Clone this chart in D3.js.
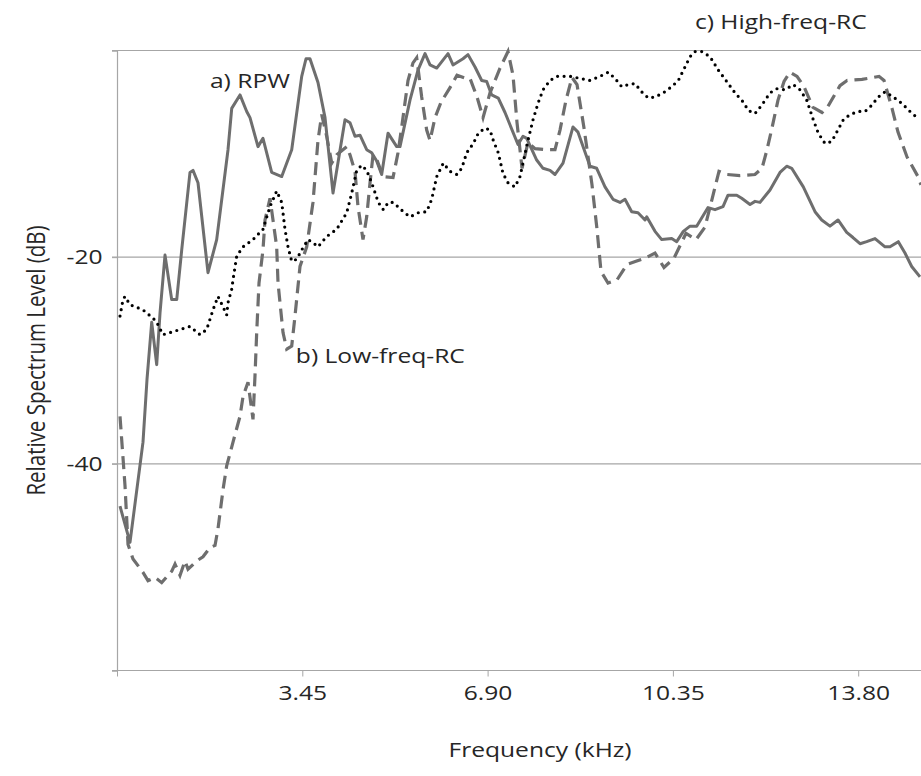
<!DOCTYPE html>
<html>
<head>
<meta charset="utf-8">
<script src="https://cdn.jsdelivr.net/npm/d3@7"></script>
<style>
  body { margin: 0; background: #fff; }
  svg { display: block; }
  text { font-family: "Open Sans", "Noto Sans", sans-serif; fill: #262626; }
</style>
</head>
<body>
<div id="chart"></div>
<script>
// [frequency kHz, relative level dB]
const rpw = [
  [0.056, -44.1], [0.242, -47.6], [0.484, -37.9], [0.559, -31.8], [0.646, -26.3], [0.739, -30.4],
  [0.801, -25.4], [0.894, -19.8], [1.018, -24.1], [1.112, -24.1], [1.205, -19.3], [1.359, -11.8],
  [1.415, -11.6], [1.508, -12.8], [1.694, -21.5], [1.856, -18.3], [2.067, -9.6], [2.136, -5.6],
  [2.290, -4.3], [2.415, -5.9], [2.476, -6.5], [2.625, -9.3], [2.718, -8.5], [2.880, -11.8],
  [3.067, -12.2], [3.253, -9.6], [3.439, -2.5], [3.519, -0.8], [3.593, -0.8], [3.742, -3.1],
  [3.873, -6.5], [4.022, -13.8], [4.245, -6.7], [4.338, -7.0], [4.431, -8.3], [4.524, -8.2],
  [4.649, -9.6], [4.742, -9.9], [4.835, -10.7], [4.928, -12.0], [5.046, -8.0], [5.208, -9.3],
  [5.269, -9.3], [5.455, -4.8], [5.604, -1.9], [5.735, -0.3], [5.828, -1.4], [5.953, -1.7],
  [6.163, -0.3], [6.256, -1.4], [6.442, -0.8], [6.535, -0.4], [6.666, -1.6], [6.790, -2.9],
  [6.883, -3.0], [6.976, -4.3], [7.099, -4.6], [7.224, -6.0], [7.466, -9.1], [7.559, -8.3],
  [7.628, -8.5], [7.814, -10.6], [7.932, -11.4], [8.062, -11.6], [8.155, -12.0], [8.304, -10.9],
  [8.490, -7.4], [8.583, -7.9], [8.807, -11.2], [8.931, -11.4], [9.086, -13.2], [9.235, -14.4],
  [9.365, -14.7], [9.458, -14.4], [9.583, -15.6], [9.700, -15.7], [9.831, -16.4], [9.862, -16.1],
  [10.017, -17.5], [10.142, -18.3], [10.328, -18.2], [10.421, -18.5], [10.544, -17.5], [10.669, -17.0],
  [10.793, -17.0], [11.004, -15.2], [11.134, -15.4], [11.283, -15.1], [11.376, -14.0], [11.538, -14.0],
  [11.631, -14.3], [11.786, -14.9], [11.879, -14.6], [11.972, -14.7], [12.158, -13.5], [12.344, -11.8],
  [12.469, -11.2], [12.562, -11.4], [12.778, -13.2], [12.996, -15.6], [13.121, -16.4], [13.275, -17.0],
  [13.424, -16.4], [13.586, -17.6], [13.703, -18.1], [13.834, -18.7], [13.958, -18.5], [14.113, -18.2],
  [14.299, -19.0], [14.392, -19.0], [14.547, -18.5], [14.671, -19.6], [14.796, -20.9], [14.951, -21.9]
]

const lowFreqRC = [
  [0.056, -35.4], [0.149, -42.1], [0.205, -47.8], [0.298, -49.2], [0.484, -50.5], [0.577, -51.3],
  [0.708, -51.0], [0.832, -51.5], [1.018, -50.4], [1.080, -49.7], [1.173, -50.8], [1.266, -49.4],
  [1.322, -50.2], [1.484, -49.4], [1.601, -49.0], [1.731, -48.1], [1.825, -47.9], [1.880, -46.3],
  [1.974, -42.5], [2.042, -40.2], [2.160, -37.9], [2.290, -35.4], [2.346, -33.5], [2.439, -32.1],
  [2.532, -35.7], [2.569, -31.5], [2.601, -27.3], [2.644, -22.5], [2.718, -19.3], [2.756, -16.4],
  [2.849, -14.3], [2.973, -19.0], [2.998, -22.5], [3.091, -27.3], [3.160, -28.9], [3.253, -28.6],
  [3.314, -25.7], [3.407, -20.9], [3.532, -19.0], [3.649, -14.7], [3.742, -8.7], [3.811, -6.2],
  [3.904, -8.3], [3.998, -10.9], [4.091, -10.1], [4.277, -9.3], [4.338, -10.1], [4.431, -11.7],
  [4.487, -15.1], [4.580, -18.3], [4.649, -16.1], [4.711, -12.8], [4.767, -10.1], [4.841, -10.6],
  [4.953, -12.2], [5.139, -12.3], [5.232, -9.9], [5.306, -7.2], [5.418, -2.9], [5.511, -1.2],
  [5.580, -0.7], [5.673, -4.5], [5.766, -7.7], [5.828, -8.7], [5.921, -6.5], [6.033, -5.0],
  [6.200, -3.6], [6.330, -2.4], [6.498, -2.7], [6.573, -2.7], [6.703, -4.5], [6.815, -6.5],
  [6.945, -4.1], [7.131, -1.7], [7.280, -0.1], [7.373, -2.4], [7.448, -7.0], [7.541, -11.4],
  [7.652, -8.9], [7.783, -9.5], [8.025, -9.6], [8.155, -9.6], [8.248, -7.7], [8.360, -4.8],
  [8.471, -2.6], [8.565, -3.3], [8.695, -7.5], [8.844, -13.0], [8.937, -17.3], [9.012, -21.4],
  [9.142, -22.5], [9.309, -22.2], [9.496, -20.7], [9.663, -20.4], [9.831, -20.1], [10.017, -19.6],
  [10.184, -21.0], [10.370, -20.1], [10.594, -17.7], [10.780, -18.3], [10.947, -17.1], [11.078, -14.4],
  [11.208, -11.7], [11.357, -12.0], [11.599, -12.1], [11.878, -12.0], [12.009, -11.4], [12.102, -9.6],
  [12.195, -7.5], [12.307, -4.8], [12.419, -3.0], [12.530, -2.1], [12.661, -2.5], [12.791, -3.5],
  [12.959, -5.5], [13.126, -6.0], [13.238, -5.4], [13.461, -3.4], [13.592, -2.9], [13.871, -2.8],
  [14.188, -2.5], [14.281, -2.9], [14.430, -5.6], [14.541, -7.9], [14.709, -10.3], [14.913, -12.2],
  [14.969, -13.0]
]

const highFreqRC = [
  [0.056, -25.7], [0.112, -24.1], [0.149, -23.8], [0.242, -24.6], [0.484, -25.1], [0.670, -25.9],
  [0.739, -26.3], [0.856, -27.5], [0.987, -27.3], [1.359, -26.7], [1.545, -27.5], [1.670, -27.0],
  [1.787, -25.1], [1.880, -23.8], [1.974, -24.8], [2.042, -25.6], [2.067, -24.4], [2.136, -23.1],
  [2.160, -22.2], [2.229, -19.9], [2.346, -19.0], [2.532, -18.3], [2.718, -17.3], [2.849, -15.1],
  [2.973, -13.6], [3.067, -14.7], [3.128, -17.3], [3.184, -19.0], [3.253, -20.4], [3.346, -20.2],
  [3.439, -19.3], [3.556, -18.3], [3.649, -18.6], [3.742, -19.0], [3.904, -18.0], [4.091, -17.3],
  [4.277, -15.7], [4.370, -13.8], [4.463, -11.6], [4.556, -11.1], [4.649, -11.6], [4.742, -12.8],
  [4.865, -14.7], [4.958, -15.4], [5.051, -14.7], [5.144, -14.7], [5.331, -15.6], [5.455, -16.1],
  [5.610, -15.7], [5.766, -15.6], [5.859, -14.4], [5.953, -12.2], [6.075, -10.9], [6.200, -11.7],
  [6.325, -12.0], [6.418, -11.4], [6.511, -9.9], [6.634, -9.0], [6.727, -8.0], [6.852, -7.5],
  [6.945, -7.7], [7.006, -8.7], [7.099, -9.9], [7.187, -11.9], [7.280, -12.8], [7.410, -13.2],
  [7.503, -12.2], [7.559, -10.9], [7.652, -8.7], [7.746, -6.7], [7.839, -5.1], [7.932, -3.8],
  [8.062, -2.9], [8.187, -2.5], [8.435, -2.5], [8.621, -2.7], [8.807, -2.9], [8.993, -2.5],
  [9.148, -2.1], [9.272, -2.7], [9.397, -3.5], [9.520, -3.3], [9.645, -3.2], [9.769, -4.0],
  [9.892, -4.6], [10.017, -4.5], [10.172, -4.1], [10.328, -3.5], [10.451, -2.9], [10.575, -1.6],
  [10.669, -0.6], [10.762, -0.1], [10.886, -0.1], [11.041, -0.6], [11.196, -1.9], [11.352, -3.0],
  [11.507, -4.1], [11.661, -5.0], [11.754, -5.8], [11.879, -6.1], [12.003, -5.3], [12.158, -4.1],
  [12.283, -3.7], [12.437, -3.8], [12.592, -3.3], [12.717, -3.8], [12.841, -4.8], [12.964, -6.7],
  [13.057, -8.0], [13.182, -9.0], [13.307, -8.8], [13.400, -7.9], [13.523, -6.7], [13.648, -6.2],
  [13.802, -5.9], [13.927, -5.9], [14.052, -5.3], [14.174, -4.5], [14.299, -4.0], [14.454, -4.5],
  [14.610, -5.1], [14.765, -5.9], [14.919, -6.6]
]

const xTicks = [0, 3.45, 6.90, 10.35, 13.80]
const yTicks = [0, -20, -40, -60]
const yLabelled = [-20, -40]

const labels = [
  { text: "a) RPW", f: 1.73, db: -3.6 },
  { text: "b) Low-freq-RC", f: 3.33, db: -30.2 },
  { text: "c) High-freq-RC", f: 10.76, db: 2.1 }
]

let width = 921, height = 776
let plotLeft = 117, plotTop = 50.5, plotBottom = 670.5
let fontSize = "20.5px"
let stretch = 1.2   // the source picture is wider than tall

let x = d3.scaleLinear().domain([0, 15]).range([plotLeft, plotLeft + 15 * 53.71])
let y = d3.scaleLinear().domain([0, -60]).range([plotTop, plotBottom])

let svg = d3.select("#chart").append("svg")
    .attr("width", width)
    .attr("height", height)

// horizontal grid (0, -20, -40)
svg.append("g").selectAll("line")
    .data(yTicks.slice(0, 3))
    .enter().append("line")
    .attr("x1", plotLeft - 5)
    .attr("x2", width)
    .attr("y1", d => y(d))
    .attr("y2", d => y(d))
    .style("stroke", "#a6a6a6")
    .style("stroke-width", 1.2)

// y axis
let yAxis = svg.append("g")
    .attr("transform", `translate(${plotLeft},0)`)
    .call(d3.axisLeft(y).tickValues(yTicks).tickSize(5).tickPadding(7)
        .tickFormat(d => yLabelled.indexOf(d) != -1 ? d : ""))
yAxis.select(".domain").style("stroke", "#a6a6a6").style("stroke-width", 1.2)
yAxis.selectAll(".tick line").style("stroke", "#a6a6a6")
yAxis.selectAll("text")
    .attr("transform", `scale(${stretch},1)`)
    .style("font-size", fontSize).style("fill", "#262626")

// x axis
let xAxis = svg.append("g")
    .attr("transform", `translate(0,${plotBottom})`)
    .call(d3.axisBottom(x).tickValues(xTicks).tickSize(6).tickPadding(9)
        .tickFormat(d => d == 0 ? "" : d3.format(".2f")(d)))
xAxis.select(".domain").attr("d", `M${plotLeft - 5},0H${width}`)
    .style("stroke", "#a6a6a6").style("stroke-width", 1.2)
xAxis.selectAll(".tick line").style("stroke", "#a6a6a6")
xAxis.selectAll("text")
    .attr("transform", `scale(${stretch},1)`)
    .style("font-size", fontSize).style("fill", "#262626")

let line = d3.line()
    .x(d => x(d[0]))
    .y(d => y(d[1]))

svg.append("path")
    .datum(rpw)
    .attr("d", line)
    .style("fill", "none")
    .style("stroke", "#6e6e6e")
    .style("stroke-width", 3)
    .style("stroke-linejoin", "round")

svg.append("path")
    .datum(lowFreqRC)
    .attr("d", line)
    .style("fill", "none")
    .style("stroke", "#6e6e6e")
    .style("stroke-width", 3.2)
    .style("stroke-dasharray", "13,7")

svg.append("path")
    .datum(highFreqRC)
    .attr("d", line)
    .style("fill", "none")
    .style("stroke", "#000")
    .style("stroke-width", 3.2)
    .style("stroke-linecap", "round")
    .style("stroke-dasharray", "0,6.5")

svg.append("g").selectAll("text")
    .data(labels)
    .enter().append("text")
    .attr("transform", d => `translate(${x(d.f)},${y(d.db)}) scale(${stretch},1)`)
    .style("font-size", fontSize)
    .text(d => d.text)

svg.append("text")
    .attr("transform", `translate(${(plotLeft + width) / 2 + 21},757) scale(${stretch},1)`)
    .attr("text-anchor", "middle")
    .style("font-size", fontSize)
    .text("Frequency (kHz)")

svg.append("text")
    .attr("transform", `translate(45,${(plotTop + plotBottom) / 2}) rotate(-90) scale(1,${stretch})`)
    .attr("text-anchor", "middle")
    .style("font-size", fontSize)
    .text("Relative Spectrum Level (dB)")
</script>
</body>
</html>
